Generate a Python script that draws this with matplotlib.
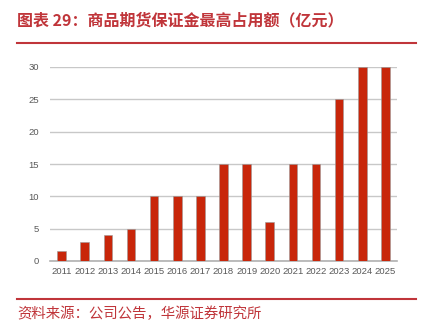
import matplotlib
matplotlib.use("Agg")
import matplotlib.pyplot as plt
from matplotlib.lines import Line2D

plt.rcParams['font.family'] = ['Noto Sans CJK SC', 'DejaVu Sans']

# === Data ===
years = ['2011', '2012', '2013', '2014', '2015', '2016', '2017', '2018',
         '2019', '2020', '2021', '2022', '2023', '2024', '2025']
margin = [1.5, 3, 4, 5, 10, 10, 10, 15, 15, 6, 15, 15, 25, 30, 30]
yticks = [0, 5, 10, 15, 20, 25, 30]

title = '图表 29：商品期货保证金最高占用额（亿元）'
source = '资料来源：公司公告，华源证券研究所'

red = '#C0353A'
bar_red = '#C8260A'

# === Figure ===
fig = plt.figure(figsize=(4.23, 3.26), dpi=100)
ax = fig.add_axes([50 / 423, 65 / 326, 347 / 423, 194 / 326])

x = list(range(len(years)))
ax.bar(x, margin, width=0.37, color=bar_red, edgecolor='#9a9a9a',
       linewidth=0.4, zorder=3)

ax.set_xlim(-0.5, len(years) - 0.5)
ax.set_ylim(0, 30)
ax.set_yticks(yticks)
ax.set_xticks(x)
ax.set_xticklabels(years)
ax.grid(axis='y', color='#c8c8c8', linewidth=1.0, zorder=0)
ax.tick_params(axis='both', length=0, labelsize=6.8, colors='#595959')
ax.tick_params(axis='x', pad=4)
ax.tick_params(axis='y', pad=8)
for lab in ax.get_xticklabels() + ax.get_yticklabels():
    lab.set_fontfamily('Liberation Sans')
for s in ['top', 'right', 'left']:
    ax.spines[s].set_visible(False)
ax.spines['bottom'].set_color('#b0b0b0')
ax.spines['bottom'].set_linewidth(1.2)

# Header / footer
fig.text(17 / 423, 1 - 20 / 326, title, color=red, fontsize=11.5,
         fontweight='bold', va='center', ha='left')
fig.add_artist(Line2D([17 / 423, 416 / 423], [1 - 43 / 326, 1 - 43 / 326],
                      color=red, linewidth=1.5))
fig.add_artist(Line2D([17 / 423, 416 / 423], [1 - 299 / 326, 1 - 299 / 326],
                      color=red, linewidth=1.5))
fig.text(17 / 423, 1 - 314 / 326, source, color=red, fontsize=10.4,
         va='center', ha='left')

fig.savefig('out.png', dpi=100)
